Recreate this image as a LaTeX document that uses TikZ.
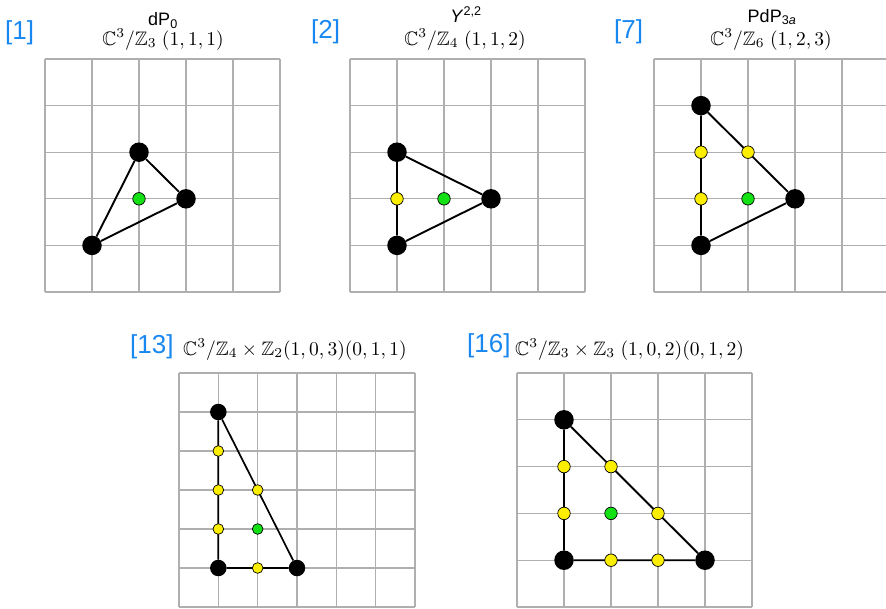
\documentclass[tikz,border=0pt]{standalone}
\usepackage{graphicx}
\usepackage{amssymb}
\usepackage[no-math]{fontspec}
\setmainfont{Liberation Sans}
\definecolor{refblue}{RGB}{25,135,240}
\definecolor{dotyellow}{RGB}{252,238,0}
\definecolor{dotgreen}{RGB}{20,225,20}
\definecolor{gridgray}{RGB}{175,175,175}
\newcommand{\bigmath}[1]{\scalebox{1.95}{$#1$}}
\tikzset{
  gridline/.style={draw=gridgray, line width=1.3pt},
  edge/.style={draw=black, line width=1.9pt},
  vtx/.style={circle, fill=black, minimum size=19.5pt, inner sep=0pt},
  ydot/.style={circle, fill=dotyellow, draw=black, line width=0.7pt, minimum size=12.5pt, inner sep=0pt},
  gdot/.style={circle, fill=dotgreen, draw=black, line width=0.7pt, minimum size=12.5pt, inner sep=0pt},
  reflabel/.style={text=refblue, font=\fontsize{26}{30}\selectfont, anchor=base west, inner sep=0pt},
  namelabel/.style={font=\fontsize{18}{21}\selectfont, anchor=base, inner sep=0pt},
  mathlabel/.style={anchor=base, inner sep=0pt},
}
\begin{document}
\begin{tikzpicture}[x=1pt, y=-1pt]
\useasboundingbox (0,0) rectangle (886,608);

% ---------- titles ----------
\node[reflabel] (r1) at (5,39) {[1]};
\node[namelabel] (n1) at (163,25.5) {dP\textsubscript{0}};
\node[mathlabel] (m1) at (163,45) {\bigmath{\mathbb{C}^3/\mathbb{Z}_3\ (1,1,1)}};

\node[reflabel] (r2) at (311,38) {[2]};
\node[namelabel] (n2) at (466,22) {\textit{Y}\textsuperscript{2,2}};
\node[mathlabel] (m2) at (465,45) {\bigmath{\mathbb{C}^3/\mathbb{Z}_4\ (1,1,2)}};

\node[reflabel] (r7) at (614,38) {[7]};
\node[namelabel] (n7) at (772,22) {PdP\textsubscript{3\textit{a}}};
\node[mathlabel] (m7) at (771,45) {\bigmath{\mathbb{C}^3/\mathbb{Z}_6\ (1,2,3)}};

\node[reflabel] (r13) at (130,353) {[13]};
\node[mathlabel, anchor=base west] (m13) at (183,355) {\bigmath{\mathbb{C}^3/\mathbb{Z}_4\times\mathbb{Z}_2(1,0,3)(0,1,1)}};

\node[reflabel] (r16) at (467,352) {[16]};
\node[mathlabel, anchor=base west] (m16) at (515,355) {\bigmath{\mathbb{C}^3/\mathbb{Z}_3\times\mathbb{Z}_3\ (1,0,2)(0,1,2)}};

% ---------- panel 1 ----------
\begin{scope}[xshift=45pt, yshift=-59pt, x=47pt, y=-46.6pt]
  \foreach \i in {0,...,5} {\draw[gridline] (\i,0) -- (\i,5); \draw[gridline] (0,\i) -- (5,\i);}
  \node[vtx] (a1) at (2,2) {};
  \node[vtx] (b1) at (3,3) {};
  \node[vtx] (c1) at (1,4) {};
  \draw[edge] (a1) -- (b1) -- (c1) -- (a1);
  \node[gdot] (g1) at (2,3) {};
\end{scope}

% ---------- panel 2 ----------
\begin{scope}[xshift=350pt, yshift=-59pt, x=47pt, y=-46.6pt]
  \foreach \i in {0,...,5} {\draw[gridline] (\i,0) -- (\i,5); \draw[gridline] (0,\i) -- (5,\i);}
  \node[vtx] (a2) at (1,2) {};
  \node[vtx] (b2) at (3,3) {};
  \node[vtx] (c2) at (1,4) {};
  \draw[edge] (a2) -- (b2) -- (c2) -- (a2);
  \node[ydot] (y2a) at (1,3) {};
  \node[gdot] (g2) at (2,3) {};
\end{scope}

% ---------- panel 7 ----------
\begin{scope}[xshift=654pt, yshift=-59pt, x=47pt, y=-46.6pt]
  \foreach \i in {0,...,5} {\draw[gridline] (\i,0) -- (\i,5); \draw[gridline] (0,\i) -- (5,\i);}
  \node[vtx] (a7) at (1,1) {};
  \node[vtx] (b7) at (3,3) {};
  \node[vtx] (c7) at (1,4) {};
  \draw[edge] (a7) -- (b7) -- (c7) -- (a7);
  \node[ydot] (y7a) at (1,2) {};
  \node[ydot] (y7b) at (2,2) {};
  \node[ydot] (y7c) at (1,3) {};
  \node[gdot] (g7) at (2,3) {};
\end{scope}

% ---------- panel 13 ----------
\begin{scope}[xshift=179pt, yshift=-373pt, x=39.33pt, y=-39pt,
  vtx/.append style={minimum size=16.5pt},
  ydot/.append style={minimum size=10.7pt},
  gdot/.append style={minimum size=10.7pt}]
  \foreach \i in {0,...,6} {\draw[gridline] (\i,0) -- (\i,6); \draw[gridline] (0,\i) -- (6,\i);}
  \node[vtx] (a13) at (1,1) {};
  \node[vtx] (b13) at (1,5) {};
  \node[vtx] (c13) at (3,5) {};
  \draw[edge, line width=1.7pt] (a13) -- (b13) -- (c13) -- (a13);
  \node[ydot] (y13a) at (1,2) {};
  \node[ydot] (y13b) at (1,3) {};
  \node[ydot] (y13c) at (1,4) {};
  \node[ydot] (y13d) at (2,3) {};
  \node[ydot] (y13e) at (2,5) {};
  \node[gdot] (g13) at (2,4) {};
\end{scope}

% ---------- panel 16 ----------
\begin{scope}[xshift=517pt, yshift=-373pt, x=47pt, y=-46.8pt]
  \foreach \i in {0,...,5} {\draw[gridline] (\i,0) -- (\i,5); \draw[gridline] (0,\i) -- (5,\i);}
  \node[vtx] (a16) at (1,1) {};
  \node[vtx] (b16) at (1,4) {};
  \node[vtx] (c16) at (4,4) {};
  \draw[edge] (a16) -- (b16) -- (c16) -- (a16);
  \node[ydot] (y16a) at (1,2) {};
  \node[ydot] (y16b) at (1,3) {};
  \node[ydot] (y16c) at (2,2) {};
  \node[ydot] (y16d) at (3,3) {};
  \node[ydot] (y16e) at (2,4) {};
  \node[ydot] (y16f) at (3,4) {};
  \node[gdot] (g16) at (2,3) {};
\end{scope}
\end{tikzpicture}
\end{document}
